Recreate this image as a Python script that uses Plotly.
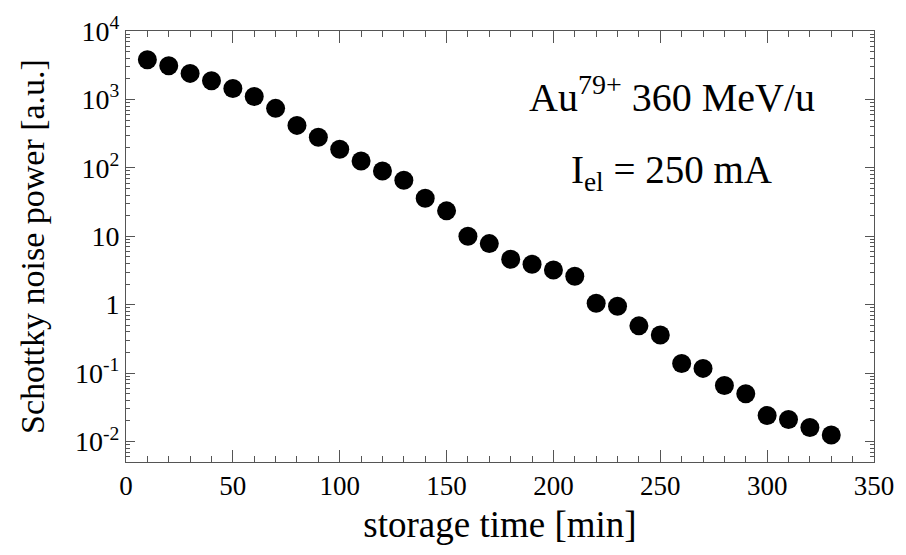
import plotly.graph_objects as go

# storage time [min]
time_min = [10, 20, 30, 40, 50, 60, 70, 80, 90, 100, 110, 120, 130, 140, 150,
            160, 170, 180, 190, 200, 210, 220, 230, 240, 250, 260, 270, 280,
            290, 300, 310, 320, 330]
# Schottky noise power [a.u.]
power = [3800, 3100, 2400, 1880, 1440, 1100, 740, 417, 280, 187, 126, 90, 66,
         36, 23.5, 10, 7.8, 4.6, 3.9, 3.2, 2.6, 1.05, 0.95, 0.49, 0.36, 0.138,
         0.117, 0.066, 0.050, 0.024, 0.021, 0.016, 0.0124]

y_tickvals = [0.01, 0.1, 1, 10, 100, 1000, 10000]
y_ticktext = ["10<sup>-2</sup>", "10<sup>-1</sup>", "1", "10",
              "10<sup>2</sup>", "10<sup>3</sup>", "10<sup>4</sup>"]
x_tickvals = [0, 50, 100, 150, 200, 250, 300, 350]

y_minor = [m * 10 ** e for e in range(-3, 4) for m in range(2, 10)]
y_minor = [v for v in y_minor if 0.005 <= v <= 10000]
x_minor = list(range(0, 351, 10))

FONT = "Liberation Serif, Times New Roman, serif"
AXC = "#555555"

W, H = 906, 555
L, R, T, B = 126, 30, 28, 93
pw, ph = W - L - R, H - T - B


def px_to_paper(px, py):
    return (px - L) / pw, 1 - (py - T) / ph


fig = go.Figure()
fig.add_trace(go.Scatter(
    x=time_min, y=power, mode="markers",
    marker=dict(size=19, color="black", line=dict(width=0)),
    showlegend=False,
))

ax1, ay1 = px_to_paper(673, 92)
ax2, ay2 = px_to_paper(673, 170)

fig.update_layout(
    width=W, height=H,
    margin=dict(l=L, r=R, t=T, b=B),
    paper_bgcolor="white", plot_bgcolor="white",
    font=dict(family=FONT, color="black"),
    xaxis=dict(
        range=[0, 350], tickmode="array", tickvals=x_tickvals,
        ticks="inside", ticklen=12, tickwidth=1, tickcolor=AXC,
        showline=True, linecolor=AXC, linewidth=1, mirror="ticks",
        showgrid=False, zeroline=False,
        tickfont=dict(size=27, family=FONT),
        minor=dict(tickmode="array", tickvals=x_minor, ticks="inside",
                   ticklen=6, tickcolor=AXC, showgrid=False),
        title=dict(text="storage time [min]", font=dict(size=37, family=FONT),
                   standoff=10),
        automargin=True,
    ),
    yaxis=dict(
        type="log", range=[-2.3, 4], tickmode="array",
        tickvals=y_tickvals, ticktext=y_ticktext,
        ticks="inside", ticklen=9, tickwidth=1, tickcolor=AXC,
        showline=True, linecolor=AXC, linewidth=1, mirror="ticks",
        showgrid=False, zeroline=False,
        tickfont=dict(size=28, family=FONT),
        minor=dict(tickmode="array", tickvals=y_minor, ticks="inside",
                   ticklen=4, tickcolor=AXC, showgrid=False),
        title=dict(text="Schottky noise power [a.u.]",
                   font=dict(size=34, family=FONT), standoff=20),
        automargin=True,
    ),
    annotations=[
        dict(text="Au<sup>79+</sup> 360 MeV/u", x=ax1, y=ay1,
             xref="paper", yref="paper", xanchor="center", yanchor="middle",
             showarrow=False, font=dict(size=40, family=FONT)),
        dict(text="I<sub>el</sub> = 250 mA", x=ax2, y=ay2,
             xref="paper", yref="paper", xanchor="center", yanchor="middle",
             showarrow=False, font=dict(size=39, family=FONT)),
    ],
)

fig.write_html("out.html")
